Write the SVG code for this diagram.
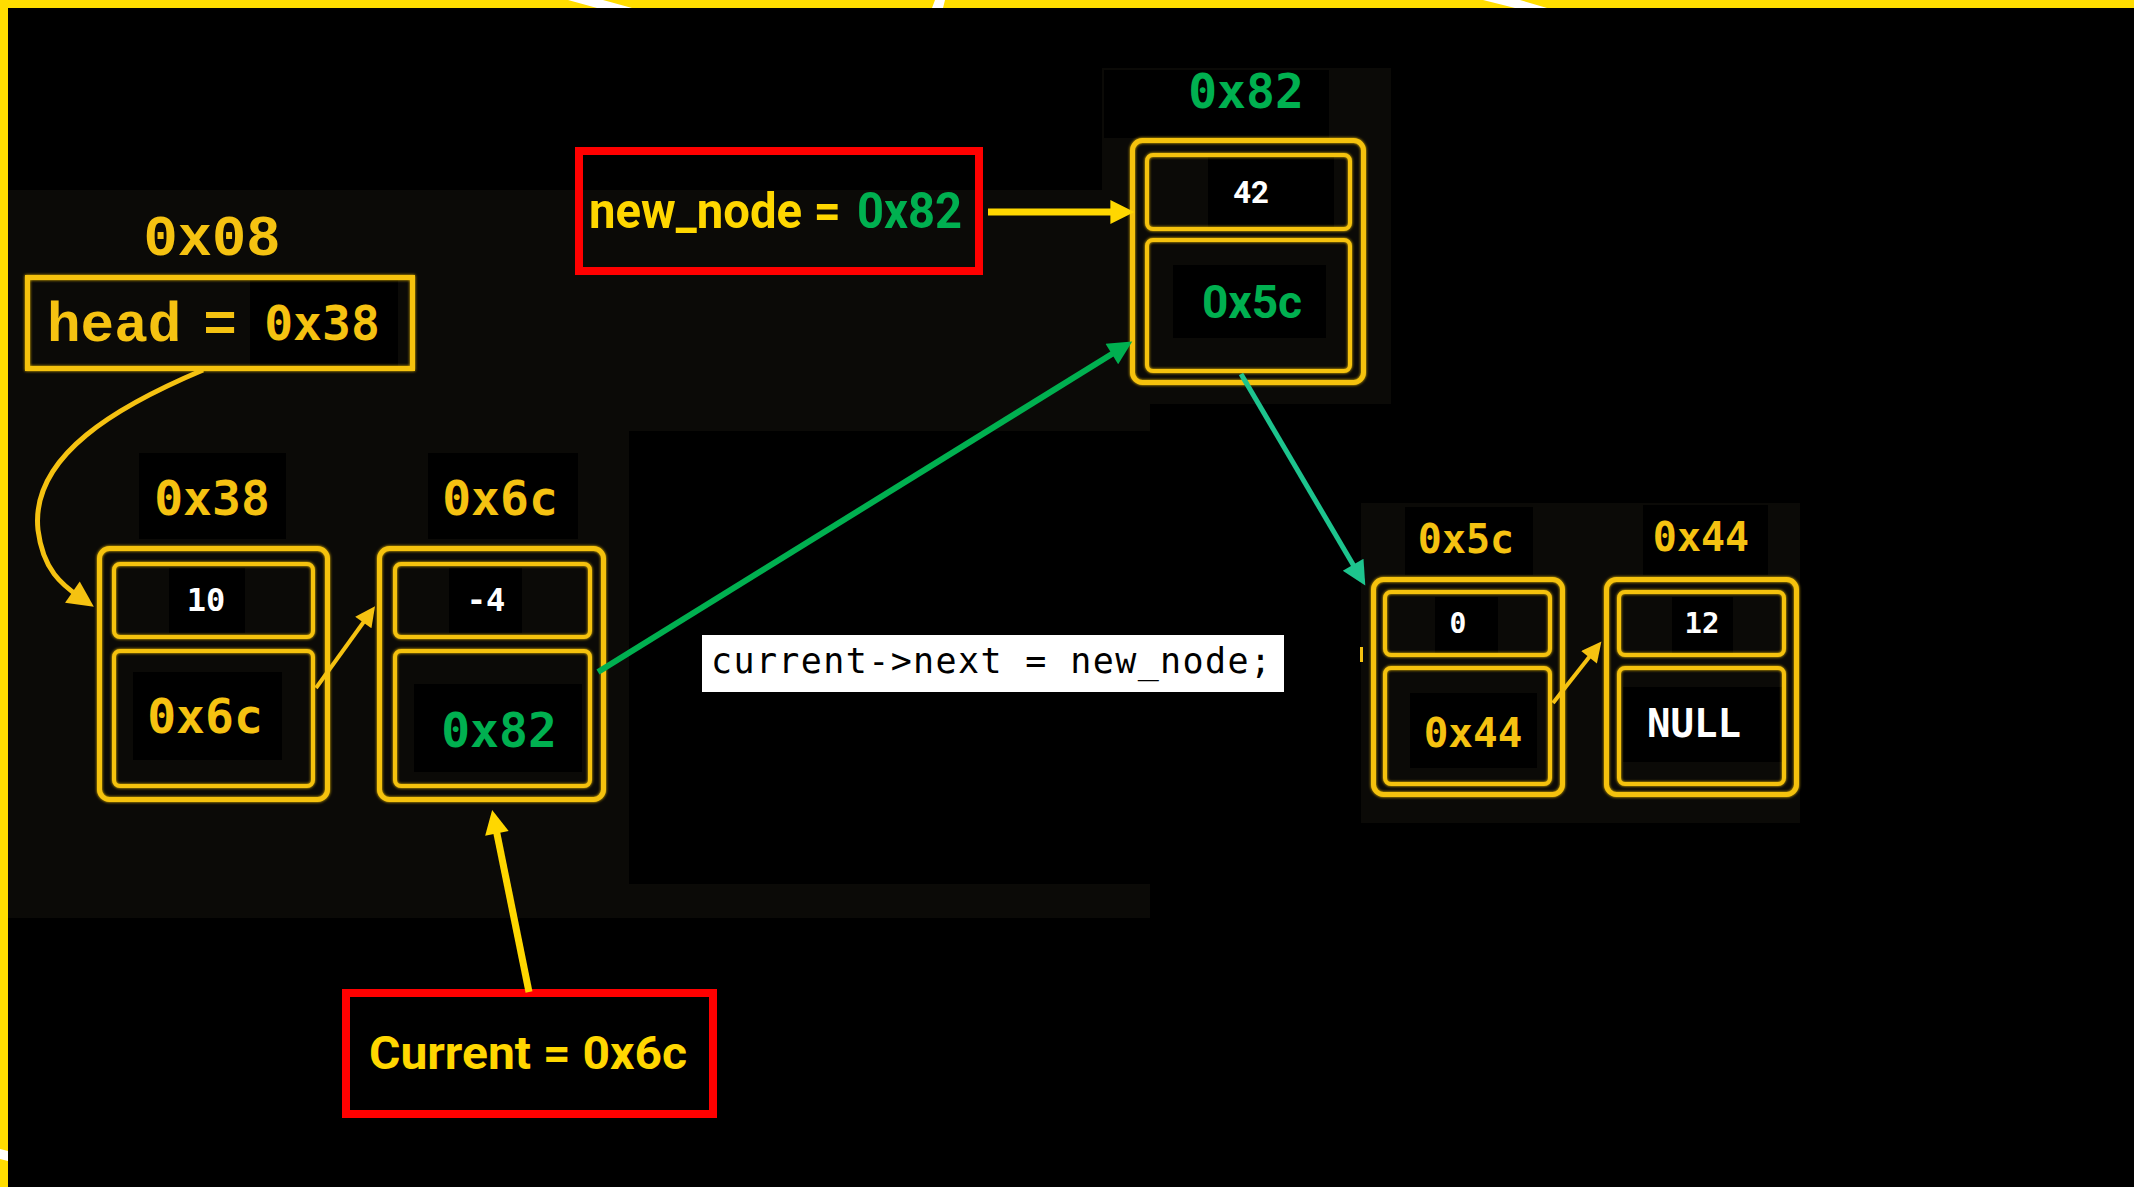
<svg xmlns="http://www.w3.org/2000/svg" width="2134" height="1187" viewBox="0 0 2134 1187">
  <defs>
    <style>
      .box { fill: none; stroke: #f5c211; stroke-width: 5; }
      .cell { fill: none; stroke: #f5c211; stroke-width: 4; }
      .patch { fill: #000000; }
      .shade { fill: #0b0a07; }
      .addr { font-family: "DejaVu Sans Mono", monospace; font-weight: bold; fill: #f5c211; text-anchor: middle; }
      .val { font-family: "DejaVu Sans Mono", monospace; font-weight: bold; fill: #ffffff; text-anchor: middle; }
      .grn { fill: #00b050; }
      .ptr { fill: none; stroke: #ff0000; stroke-width: 8; }
      .ptrtxt { font-family: Roboto, "Liberation Sans", sans-serif; font-weight: bold; fill: #ffd700; }
      .courier { font-family: "Liberation Mono", "Courier New", monospace; font-weight: bold; fill: #f5c211; }
    </style>
    <filter id="glow" x="-10%" y="-10%" width="120%" height="120%">
      <feGaussianBlur in="SourceGraphic" stdDeviation="1.6" result="b"/>
      <feMerge><feMergeNode in="b"/><feMergeNode in="SourceGraphic"/></feMerge>
    </filter>
    <marker id="ahY" viewBox="0 0 10 10" refX="4" refY="5" markerUnits="userSpaceOnUse" markerWidth="26" markerHeight="24" orient="auto">
      <path d="M0,0 L10,5 L0,10 z" fill="#ffd700"/>
    </marker>
    <marker id="ahG" viewBox="0 0 10 10" refX="4" refY="5" markerUnits="userSpaceOnUse" markerWidth="28" markerHeight="24" orient="auto">
      <path d="M0,0 L10,5 L0,10 z" fill="#00b050"/>
    </marker>
    <marker id="ahT" viewBox="0 0 10 10" refX="4" refY="5" markerUnits="userSpaceOnUse" markerWidth="28" markerHeight="24" orient="auto">
      <path d="M0,0 L10,5 L0,10 z" fill="#1dc48e"/>
    </marker>
    <marker id="ahS" viewBox="0 0 10 10" refX="4" refY="5" markerUnits="userSpaceOnUse" markerWidth="24" markerHeight="20" orient="auto">
      <path d="M0,0 L10,5 L0,10 z" fill="#f5c211"/>
    </marker>
    <marker id="ahH" viewBox="0 0 10 10" refX="4" refY="5" markerUnits="userSpaceOnUse" markerWidth="30" markerHeight="26" orient="auto">
      <path d="M0,0 L10,5 L0,10 z" fill="#f5c211"/>
    </marker>
  </defs>

  <!-- backdrop and frame -->
  <rect x="0" y="0" width="2134" height="1187" fill="#000000"/>
  <path class="shade" fill-rule="evenodd" d="M8,190 H1150 V918 H8 Z M629,431 H1150 V884 H629 Z"/>
  <rect class="shade" x="1102" y="68" width="289" height="336"/>
  <rect class="shade" x="1361" y="503" width="439" height="320"/>
  <rect x="0" y="0" width="2134" height="8" fill="#ffdd00"/>
  <rect x="0" y="0" width="8" height="1187" fill="#ffdd00"/>
  <polygon points="568,0 603,0 632,8 597,8" fill="#ffffff"/>
  <polygon points="935,0 945,0 943,8 932,8" fill="#ffffff"/>
  <polygon points="1483,0 1520,0 1547,8 1515,8" fill="#ffffff"/>
  <polygon points="0,1149 8,1151 8,1161 0,1159" fill="#ffffff"/>

  <!-- head pointer -->
  <g id="head">
    <rect class="patch" x="250" y="280" width="148" height="86"/>
    <text class="courier" x="212" y="255" font-size="57" text-anchor="middle">0x08</text>
    <rect class="box" x="27.5" y="277.5" width="385" height="91" filter="url(#glow)"/>
    <text class="courier" x="47" y="341" font-size="56">head</text>
    <text class="courier" x="220" y="341" font-size="56" text-anchor="middle">=</text>
    <text class="addr" x="322" y="340" font-size="48">0x38</text>
  </g>

  <!-- node at 0x38 -->
  <g id="node-0x38">
    <rect class="patch" x="139" y="453" width="147" height="86"/>
    <rect class="patch" x="169" y="568" width="76" height="65"/>
    <rect class="patch" x="133" y="672" width="149" height="88"/>
    <text class="addr" x="212" y="515" font-size="48">0x38</text>
    <g filter="url(#glow)">
      <rect class="box" x="99.5" y="548.5" width="228" height="251" rx="10"/>
      <rect class="cell" x="114" y="564" width="199" height="73" rx="6"/>
      <rect class="cell" x="114" y="651" width="199" height="135" rx="6"/>
    </g>
    <text class="val" x="206" y="611" font-size="32">10</text>
    <text class="addr" x="205" y="733" font-size="48">0x6c</text>
  </g>

  <!-- node at 0x6c -->
  <g id="node-0x6c">
    <rect class="patch" x="428" y="453" width="150" height="86"/>
    <rect class="patch" x="449" y="568" width="73" height="65"/>
    <rect class="patch" x="414" y="684" width="168" height="88"/>
    <text class="addr" x="500" y="515" font-size="48">0x6c</text>
    <g filter="url(#glow)">
      <rect class="box" x="379.5" y="548.5" width="224" height="251" rx="10"/>
      <rect class="cell" x="395" y="564" width="195" height="73" rx="6"/>
      <rect class="cell" x="395" y="651" width="195" height="135" rx="6"/>
    </g>
    <text class="val" x="486" y="611" font-size="32">-4</text>
    <text class="addr grn" x="499" y="747" font-size="48">0x82</text>
  </g>

  <!-- new node at 0x82 -->
  <g id="node-0x82">
    <rect class="patch" x="1104" y="70" width="225" height="68"/>
    <rect class="patch" x="1208" y="157" width="126" height="71"/>
    <rect class="patch" x="1173" y="265" width="153" height="73"/>
    <text class="addr grn" x="1246" y="108" font-size="48">0x82</text>
    <g filter="url(#glow)">
      <rect class="box" x="1132.5" y="140.5" width="231" height="242" rx="10"/>
      <rect class="cell" x="1147" y="155" width="203" height="74" rx="6"/>
      <rect class="cell" x="1147" y="240" width="203" height="131" rx="6"/>
    </g>
    <text x="1251" y="203" font-family="Roboto, 'Liberation Sans', sans-serif" font-weight="bold" font-size="31" fill="#ffffff" text-anchor="middle">42</text>
    <text x="1252" y="318" font-family="Roboto, 'Liberation Sans', sans-serif" font-weight="bold" font-size="46" fill="#00b050" text-anchor="middle">0x5c</text>
  </g>

  <!-- node at 0x5c -->
  <g id="node-0x5c">
    <rect class="patch" x="1405" y="507" width="128" height="68"/>
    <rect class="patch" x="1435" y="597" width="63" height="56"/>
    <rect class="patch" x="1410" y="693" width="127" height="75"/>
    <text class="addr" x="1466" y="553" font-size="40">0x5c</text>
    <g filter="url(#glow)">
      <rect class="box" x="1373.5" y="579.5" width="189" height="215" rx="10"/>
      <rect class="cell" x="1385" y="592" width="165" height="63" rx="6"/>
      <rect class="cell" x="1385" y="668" width="165" height="116" rx="6"/>
    </g>
    <rect x="1360" y="647" width="3" height="15" fill="#f5c211"/>
    <text class="val" x="1458" y="633" font-size="28" font-weight="normal">0</text>
    <text class="addr" x="1473" y="747" font-size="41">0x44</text>
  </g>

  <!-- node at 0x44 -->
  <g id="node-0x44">
    <rect class="patch" x="1643" y="505" width="125" height="70"/>
    <rect class="patch" x="1672" y="597" width="61" height="56"/>
    <rect class="patch" x="1623" y="687" width="159" height="75"/>
    <text class="addr" x="1701" y="551" font-size="40">0x44</text>
    <g filter="url(#glow)">
      <rect class="box" x="1606.5" y="579.5" width="190" height="215" rx="10"/>
      <rect class="cell" x="1619" y="592" width="165" height="63" rx="6"/>
      <rect class="cell" x="1619" y="668" width="165" height="116" rx="6"/>
    </g>
    <text class="val" x="1702" y="633" font-size="29" font-weight="normal">12</text>
    <text class="val" x="1694" y="737" font-size="39">NULL</text>
  </g>

  <!-- new_node variable -->
  <g id="new-node-var">
    <rect class="ptr" x="579" y="151" width="400" height="120"/>
    <text class="ptrtxt" x="589" y="228" font-size="50" textLength="252" lengthAdjust="spacingAndGlyphs">new_node =</text>
    <text class="ptrtxt" x="857" y="228" font-size="50" fill="#00b050" textLength="105" lengthAdjust="spacingAndGlyphs" style="fill:#00b050">0x82</text>
  </g>

  <!-- current variable -->
  <g id="current-var">
    <rect class="ptr" x="346" y="993" width="367" height="121"/>
    <text class="ptrtxt" x="369" y="1069" font-size="46" textLength="318" lengthAdjust="spacingAndGlyphs">Current = 0x6c</text>
  </g>

  <!-- statement -->
  <g id="statement">
    <rect x="702" y="635" width="582" height="57" fill="#ffffff"/>
    <text x="711" y="673" font-family="'DejaVu Sans Mono', monospace" font-size="35" fill="#000000" textLength="560" lengthAdjust="spacing">current-&gt;next = new_node;</text>
  </g>

  <!-- connectors -->
  <g id="connectors" fill="none">
    <path d="M203,370 C120,405 30,455 38,530 C43,570 62,585 81,598" stroke="#f5c211" stroke-width="5" marker-end="url(#ahH)"/>
    <line x1="316" y1="688" x2="368" y2="616" stroke="#f5c211" stroke-width="4" marker-end="url(#ahS)"/>
    <line x1="529" y1="992" x2="495" y2="824" stroke="#ffd700" stroke-width="7" marker-end="url(#ahY)"/>
    <line x1="988" y1="212" x2="1120" y2="212" stroke="#ffd700" stroke-width="7" marker-end="url(#ahY)"/>
    <line x1="598" y1="672" x2="1120" y2="349" stroke="#00b050" stroke-width="6" marker-end="url(#ahG)"/>
    <line x1="1241" y1="374" x2="1358" y2="573" stroke="#1dc48e" stroke-width="5" marker-end="url(#ahT)"/>
    <line x1="1553" y1="703" x2="1594" y2="651" stroke="#f5c211" stroke-width="4" marker-end="url(#ahS)"/>
  </g>
</svg>
